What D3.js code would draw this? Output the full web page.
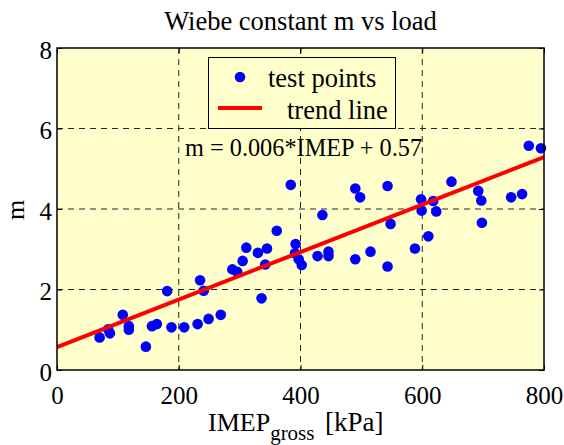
<!DOCTYPE html>
<html><head><meta charset="utf-8">
<script src="https://cdn.jsdelivr.net/npm/d3@7"></script>
<style>body{margin:0;background:#fff}svg{display:block}text{font-family:"Liberation Serif","Times New Roman",serif;fill:#000}</style>
</head><body>
<script>
const imep = [70,84,87,108,118,118,146,156,164,181,188,209,231,235,241,249,269,288,296,305,311,330,345,342,336,361,384,392,391,397,402,428,436,446,446,490,498,490,515,543,543,548,588,598,599,610,618,623,648,692,697,698,746,764,775,795];
const mVals = [0.81,1.01,0.91,1.37,1.09,1.00,0.58,1.09,1.14,1.96,1.06,1.06,1.14,2.23,1.97,1.27,1.37,2.50,2.44,2.71,3.04,2.91,3.02,2.62,1.78,3.46,4.60,3.13,2.90,2.75,2.61,2.83,3.85,2.94,2.83,4.51,4.29,2.75,2.94,4.57,2.57,3.63,3.02,4.24,3.96,3.32,4.20,3.94,4.68,4.45,4.21,3.66,4.29,4.37,5.57,5.51];
const trendSlope = 0.0059, trendIntercept = 0.57;
const xTicks = [0,200,400,600,800];
const yTicks = [0,2,4,6,8];
const titleText = "Wiebe constant m vs load";
const legendLabels = ["test points","trend line"];
const eqText = "m = 0.006*IMEP + 0.57";

const W=564,H=445;
const L=57,R=544,T=48,B=370;
const svg=d3.select("body").append("svg").attr("width",W).attr("height",H);
const x=d3.scaleLinear().domain([0,800]).range([L,R]);
const y=d3.scaleLinear().domain([0,8]).range([B,T]);
const bg="#ffffcc";
svg.append("rect").attr("x",L).attr("y",T).attr("width",R-L).attr("height",B-T).attr("fill",bg);

// grid
const g=svg.append("g").attr("stroke","#222").attr("stroke-width",1).attr("stroke-dasharray","6,5");
xTicks.slice(1,-1).forEach(v=>g.append("line").attr("x1",x(v)).attr("x2",x(v)).attr("y1",T).attr("y2",B));
yTicks.slice(1,-1).forEach(v=>g.append("line").attr("y1",y(v)).attr("y2",y(v)).attr("x1",L).attr("x2",R));

// axes
const fs=25;
const xa=svg.append("g").attr("transform",`translate(0,${B})`).call(d3.axisBottom(x).tickValues(xTicks).tickSizeInner(-5).tickSizeOuter(0).tickPadding(20));
const ya=svg.append("g").attr("transform",`translate(${L},0)`).call(d3.axisLeft(y).tickValues(yTicks).tickSizeInner(-5).tickSizeOuter(0).tickPadding(5));
svg.append("g").attr("transform",`translate(0,${T})`).call(d3.axisTop(x).tickValues(xTicks).tickSizeInner(-5).tickSizeOuter(0).tickFormat(""));
svg.append("g").attr("transform",`translate(${R},0)`).call(d3.axisRight(y).tickValues(yTicks).tickSizeInner(-5).tickSizeOuter(0).tickFormat(""));
svg.selectAll(".domain").remove();
svg.selectAll(".tick line").attr("stroke","#000");
svg.selectAll(".tick text").attr("font-family","Liberation Serif").attr("font-size",fs).attr("fill","#000");
xa.selectAll(".tick text").attr("dy","0.55em");
ya.selectAll(".tick text").attr("dy","0.4em");

// points
svg.append("g").selectAll("circle").data(imep).join("circle")
  .attr("cx",d=>x(d)).attr("cy",(d,i)=>y(mVals[i])).attr("r",5.3).attr("fill","#0000ff");
// trend line
svg.append("line").attr("x1",x(0)).attr("y1",y(trendIntercept)).attr("x2",x(800)).attr("y2",y(trendIntercept+trendSlope*800))
  .attr("stroke","#ff0000").attr("stroke-width",4);

// box
svg.append("rect").attr("x",L).attr("y",T).attr("width",R-L).attr("height",B-T).attr("fill","none").attr("stroke","#000").attr("stroke-width",1.5);

// equation
svg.append("text").attr("x",185).attr("y",156).attr("font-size",24.3).text(eqText);

// legend
const lg=svg.append("g");
lg.append("rect").attr("x",208.5).attr("y",57.5).attr("width",187).attr("height",71).attr("fill",bg).attr("stroke","#000").attr("stroke-width",1);
lg.append("circle").attr("cx",240).attr("cy",77).attr("r",5.3).attr("fill","#0000ff");
lg.append("text").attr("x",268).attr("y",87).attr("font-size",26.5).text(legendLabels[0]);
lg.append("line").attr("x1",218).attr("x2",262).attr("y1",108).attr("y2",108).attr("stroke","#ff0000").attr("stroke-width",4);
lg.append("text").attr("x",287).attr("y",119).attr("font-size",26.5).text(legendLabels[1]);

// title
svg.append("text").attr("x",(L+R)/2).attr("y",30).attr("text-anchor","middle").attr("font-size",26.5).text(titleText);
// y label
svg.append("text").attr("transform","translate(24,210) rotate(-90)").attr("text-anchor","middle").attr("font-size",26).text("m");
// x label
const xl=svg.append("text").attr("x",208).attr("y",431).attr("font-size",26);
xl.append("tspan").text("IMEP");
xl.append("tspan").attr("font-size",21).attr("dy",9).text("gross");
svg.append("text").attr("x",325).attr("y",431).attr("font-size",27).text("[kPa]");
</script>
</body></html>
